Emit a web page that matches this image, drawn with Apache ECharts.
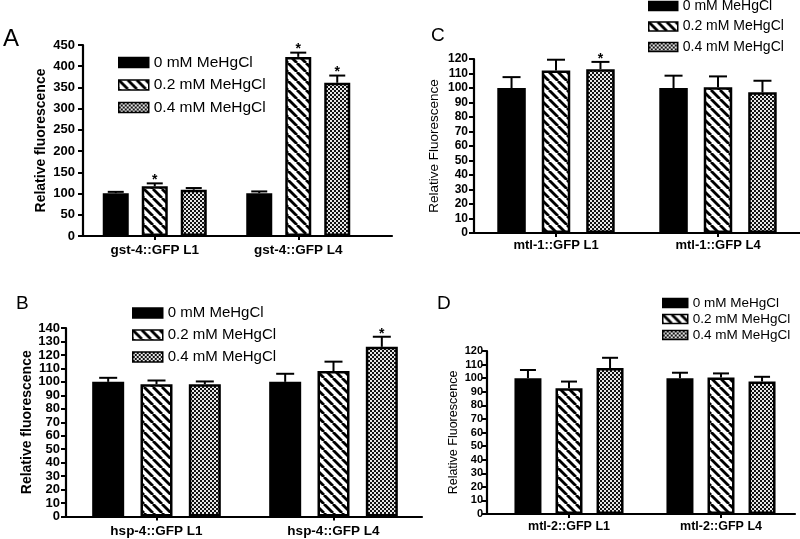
<!DOCTYPE html>
<html><head><meta charset="utf-8">
<script src="https://cdn.jsdelivr.net/npm/echarts@6/dist/echarts.min.js"></script>
<style>html,body{margin:0;padding:0;background:#fff}#c{width:800px;height:539px}</style>
</head><body><div id="c"></div>
<script>
// ---------- data ----------
const seriesNames = ['0 mM MeHgCl', '0.2 mM MeHgCl', '0.4 mM MeHgCl'];

const catsA = ['gst-4::GFP L1', 'gst-4::GFP L4'];
const meansA = [[101, 101], [117, 422], [109, 361]];
const errsA  = [[3, 4], [7, 10], [4, 17]];
const starsA = [[0, 0], [1, 1], [0, 1]];
const yTicksA = [0, 450, 50];

const catsB = ['hsp-4::GFP L1', 'hsp-4::GFP L4'];
const meansB = [[100, 100], [98.3, 108], [98.3, 126]];
const errsB  = [[3, 6], [2.7, 7], [2, 7.5]];
const starsB = [[0, 0], [0, 0], [0, 1]];
const yTicksB = [0, 140, 10];

const catsC = ['mtl-1::GFP L1', 'mtl-1::GFP L4'];
const meansC = [[100, 100], [112, 100.5], [113, 97]];
const errsC  = [[7.5, 8.5], [7.5, 7.5], [5, 8]];
const starsC = [[0, 0], [0, 0], [1, 0]];
const yTicksC = [0, 120, 10];

const catsD = ['mtl-2::GFP L1', 'mtl-2::GFP L4'];
const meansD = [[100, 100], [92.5, 100.5], [107.5, 97.5]];
const errsD  = [[6, 4], [5, 3], [7.5, 3.5]];
const starsD = [[0, 0], [0, 0], [0, 0]];
const yTicksD = [0, 120, 10];

const panelLetters = ['A', 'B', 'C', 'D'];
const yNames = ['Relative fluorescence', 'Relative fluorescence', 'Relative Fluorescence', 'Relative Fluorescence'];

// ---------- layout / style ----------
const FONT = 'Liberation Sans, Arial, Helvetica, sans-serif';
const layout = [
  {axisX: 83, left: 83, width: 287, frameEnd: 392, top: 45, height: 191, bw: 26, gapPct: 50, cap: 8,
   tickFont: 13, catFont: 13.5, catMargin: 7, nameFont: 14, nameBold: 'bold', nameGap: 35, labelMargin: 8,
   legLeft: 118, legTop: 54.5, legW: 30, legH: 10, legFont: 15.5, legLine: 15, legGap: 6.5,
   letter: {x: 3, y: 27, size: 24}},
  {axisX: 66, left: 68, width: 354, frameEnd: 422, top: 328, height: 188.5, bw: 32, gapPct: 51, cap: 9,
   tickFont: 13, catFont: 13.5, catMargin: 8, nameFont: 14, nameBold: 'bold', nameGap: 31, labelMargin: 6,
   legLeft: 132, legTop: 305.5, legW: 30, legH: 10, legFont: 15, legLine: 15, legGap: 7,
   letter: {x: 16, y: 294, size: 19}},
  {axisX: 474, left: 475, width: 324, frameEnd: 800, top: 59, height: 174, bw: 28.5, gapPct: 56, cap: 9,
   tickFont: 12, catFont: 13, catMargin: 6, nameFont: 13.5, nameBold: 'normal', nameGap: 33, labelMargin: 6,
   legLeft: 648, legTop: -1, legW: 29, legH: 9, legFont: 14, legLine: 14, legGap: 6.5,
   letter: {x: 431, y: 26, size: 19}},
  {axisX: 487, left: 493, width: 304, frameEnd: 795, top: 351, height: 163, bw: 27, gapPct: 52, cap: 8,
   tickFont: 11, catFont: 12.5, catMargin: 6, nameFont: 12.5, nameBold: 'normal', nameGap: 27, labelMargin: 4,
   legLeft: 662, legTop: 296, legW: 25, legH: 9, legFont: 13.5, legLine: 13, legGap: 2,
   letter: {x: 437, y: 294, size: 19}}
];

const panels = [
  {cats: catsA, means: meansA, errs: errsA, stars: starsA, ticks: yTicksA},
  {cats: catsB, means: meansB, errs: errsB, stars: starsB, ticks: yTicksB},
  {cats: catsC, means: meansC, errs: errsC, stars: starsC, ticks: yTicksC},
  {cats: catsD, means: meansD, errs: errsD, stars: starsD, ticks: yTicksD}
];

// ---------- patterns ----------
function hatchCanvas() {
  const n = 9, c = document.createElement('canvas');
  c.width = c.height = n;
  const g = c.getContext('2d');
  g.fillStyle = '#fff'; g.fillRect(0, 0, n, n);
  g.strokeStyle = '#000'; g.lineWidth = 2.8;
  for (const k of [-n, 0, n]) { g.beginPath(); g.moveTo(k, 0); g.lineTo(k + n, n); g.stroke(); }
  return c;
}
function checkerCanvas() {
  const c = document.createElement('canvas');
  c.width = c.height = 4;
  const g = c.getContext('2d');
  g.fillStyle = '#e6e6e6'; g.fillRect(0, 0, 4, 4);
  g.fillStyle = '#111'; g.fillRect(0, 0, 2, 2); g.fillRect(2, 2, 2, 2);
  return c;
}
const fills = ['#000', {image: hatchCanvas(), repeat: 'repeat'}, {image: checkerCanvas(), repeat: 'repeat'}];

// ---------- option ----------
const grid = [], xAxis = [], yAxis = [], series = [], legend = [], graphic = [];

panels.forEach((P, i) => {
  const L = layout[i];
  grid.push({left: L.left, width: L.width, top: L.top, height: L.height, outerBoundsMode: 'none'});
  grid.push({left: L.axisX, width: L.frameEnd - L.axisX, top: L.top, height: L.height, outerBoundsMode: 'none'});

  xAxis.push({
    gridIndex: 2 * i, type: 'category', data: P.cats,
    axisLine: {show: false},
    axisTick: {show: true, alignWithLabel: true, length: 4, lineStyle: {color: '#000', width: 2}},
    axisLabel: {color: '#000', fontWeight: 'bold', fontSize: L.catFont, fontFamily: FONT, margin: L.catMargin},
    splitLine: {show: false}
  });
  xAxis.push({
    gridIndex: 2 * i + 1, type: 'value', min: 0, max: 1,
    axisLine: {show: true, onZero: false, lineStyle: {color: '#000', width: 2.2}},
    axisTick: {show: false}, axisLabel: {show: false}, splitLine: {show: false}
  });

  yAxis.push({
    gridIndex: 2 * i, type: 'value', min: P.ticks[0], max: P.ticks[1], interval: P.ticks[2],
    offset: L.left - L.axisX,
    name: yNames[i], nameLocation: 'middle', nameGap: L.nameGap,
    nameTextStyle: {color: '#000', fontSize: L.nameFont, fontWeight: L.nameBold, fontFamily: FONT},
    axisLine: {show: true, lineStyle: {color: '#000', width: 2.2}},
    axisTick: {show: true, length: 5, lineStyle: {color: '#000', width: 2}},
    axisLabel: {color: '#000', fontWeight: 'bold', fontSize: L.tickFont, fontFamily: FONT, margin: L.labelMargin},
    splitLine: {show: false}
  });
  yAxis.push({gridIndex: 2 * i + 1, type: 'value', min: 0, max: 1, show: false});

  const spacing = L.bw * (1 + L.gapPct / 100);
  seriesNames.forEach((nm, s) => {
    series.push({
      type: 'bar', name: nm, xAxisIndex: 2 * i, yAxisIndex: 2 * i,
      data: P.means[s], barWidth: L.bw, barGap: L.gapPct + '%',
      itemStyle: {color: fills[s], borderColor: '#000', borderWidth: 2.5},
      emphasis: {disabled: true}, silent: true, z: 2
    });
    series.push({
      type: 'custom', name: 'err' + i + s, xAxisIndex: 2 * i, yAxisIndex: 2 * i,
      data: P.cats.map((_, j) => [j, P.means[s][j], P.errs[s][j], P.stars[s][j]]),
      encode: {x: 0, y: 1}, silent: true, z: 3,
      renderItem: (params, api) => {
        const j = api.value(0), v = api.value(1), e = api.value(2), st = api.value(3);
        const b = api.coord([j, v]), t = api.coord([j, v + e]);
        const x = b[0] + (s - 1) * spacing;
        const ch = [
          {type: 'line', shape: {x1: x, y1: b[1], x2: x, y2: t[1]}, style: {stroke: '#000', lineWidth: 2}},
          {type: 'line', shape: {x1: x - L.cap, y1: t[1], x2: x + L.cap, y2: t[1]}, style: {stroke: '#000', lineWidth: 2}}
        ];
        if (st) ch.push({type: 'text', x: x, y: t[1] - 3,
          style: {text: '*', fill: '#000', font: 'bold 14px ' + FONT, align: 'center', verticalAlign: 'middle'}});
        return {type: 'group', children: ch};
      }
    });
  });

  legend.push({
    data: seriesNames, orient: 'vertical', left: L.legLeft, top: L.legTop, padding: 0,
    itemWidth: L.legW, itemHeight: L.legH, itemGap: L.legGap, icon: 'rect', selectedMode: false,
    itemStyle: {borderColor: '#000', borderWidth: 1.5},
    textStyle: {color: '#000', fontSize: L.legFont, fontFamily: FONT, lineHeight: L.legLine}
  });

  graphic.push({type: 'text', left: L.letter.x, top: L.letter.y,
    style: {text: panelLetters[i], fill: '#000', font: L.letter.size + 'px ' + FONT}});
});

const chart = echarts.init(document.getElementById('c'), null, {renderer: 'canvas'});
chart.setOption({
  backgroundColor: '#fff', animation: false,
  grid, xAxis, yAxis, series, legend, graphic
});
</script></body></html>
